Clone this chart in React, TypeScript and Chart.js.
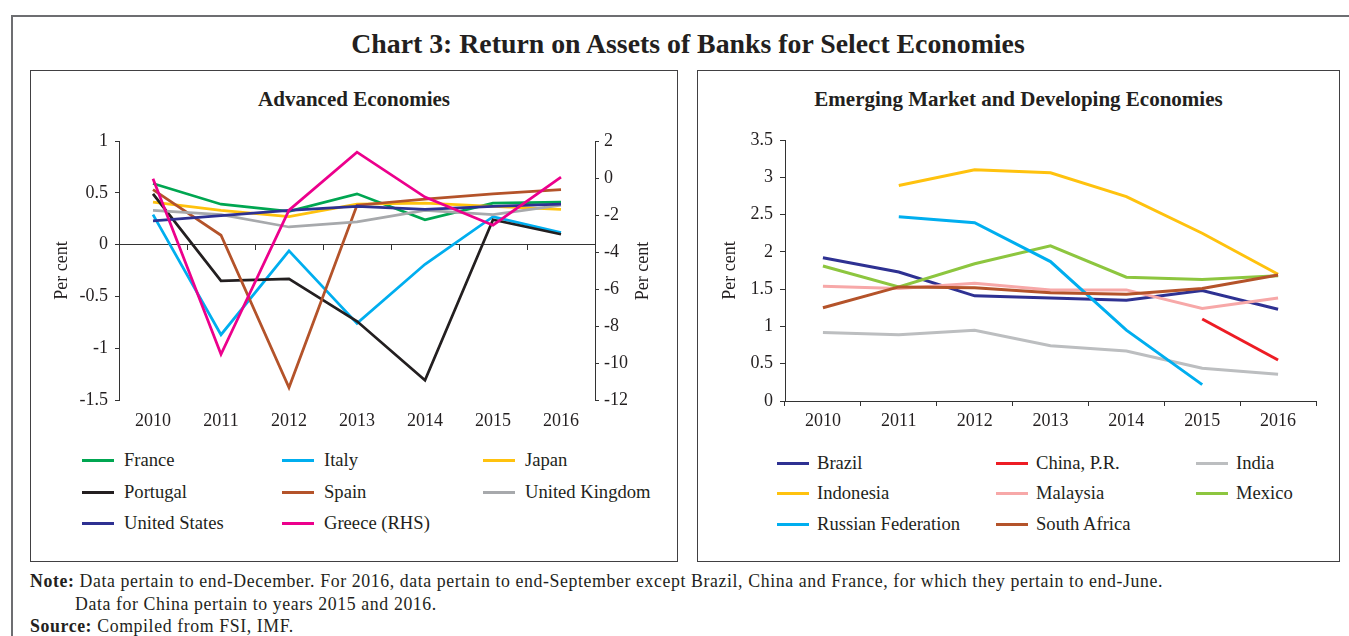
import React, { useEffect, useRef } from 'react';
import { Chart, registerables } from 'chart.js';

Chart.register(...registerables);

// ---------- data ----------
const years = ['2010', '2011', '2012', '2013', '2014', '2015', '2016'];

// Advanced economies (per cent, left axis unless noted)
const france = [0.59, 0.39, 0.32, 0.49, 0.24, 0.4, 0.41];
const italy = [0.29, -0.87, -0.06, -0.76, -0.19, 0.27, 0.115];
const japan = [0.41, 0.33, 0.27, 0.39, 0.4, 0.37, 0.34];
const portugal = [0.49, -0.35, -0.33, -0.74, -1.31, 0.24, 0.1];
const spain = [0.53, 0.09, -1.38, 0.38, 0.44, 0.49, 0.53];
const unitedKingdom = [0.33, 0.29, 0.17, 0.22, 0.33, 0.29, 0.38];
const unitedStates = [0.23, 0.28, 0.33, 0.37, 0.34, 0.37, 0.39];
const greeceRHS = [-0.04, -9.53, -1.74, 1.4, -1.03, -2.55, 0.05];

// Emerging market and developing economies (per cent)
const brazil = [1.92, 1.73, 1.41, 1.38, 1.35, 1.48, 1.23];
const china = [null, null, null, null, null, 1.1, 0.55];
const india = [0.92, 0.89, 0.95, 0.74, 0.67, 0.44, 0.36];
const indonesia = [null, 2.89, 3.1, 3.06, 2.74, 2.25, 1.7];
const malaysia = [1.54, 1.51, 1.58, 1.49, 1.49, 1.24, 1.38];
const mexico = [1.81, 1.53, 1.84, 2.08, 1.66, 1.63, 1.68];
const russia = [null, 2.47, 2.39, 1.87, 0.95, 0.22, null];
const southAfrica = [1.25, 1.53, 1.52, 1.45, 1.43, 1.51, 1.69];

// axis ticks
const leftAxisTicks = { min: -1.5, max: 1, step: 0.5 };
const rightAxisTicks = { min: -12, max: 2, step: 2 };
const emdeAxisTicks = { min: 0, max: 3.5, step: 0.5 };

const FONT = '"Liberation Serif", "DejaVu Serif", serif';
const TEXT = '#231f20';
const AXIS = '#333333';

const advSeries = [
  { label: 'France', data: france, color: '#00a651', axis: 'y' },
  { label: 'Italy', data: italy, color: '#00aeef', axis: 'y' },
  { label: 'Japan', data: japan, color: '#ffc20e', axis: 'y' },
  { label: 'Portugal', data: portugal, color: '#231f20', axis: 'y' },
  { label: 'Spain', data: spain, color: '#b4532a', axis: 'y' },
  { label: 'United Kingdom', data: unitedKingdom, color: '#a7a9ac', axis: 'y' },
  { label: 'United States', data: unitedStates, color: '#2e3192', axis: 'y' },
  { label: 'Greece (RHS)', data: greeceRHS, color: '#ec008c', axis: 'y2' },
];

const emdeSeries = [
  { label: 'Brazil', data: brazil, color: '#2e3192' },
  { label: 'China, P.R.', data: china, color: '#ed1c24' },
  { label: 'India', data: india, color: '#bcbec0' },
  { label: 'Indonesia', data: indonesia, color: '#ffc20e' },
  { label: 'Malaysia', data: malaysia, color: '#f7a8a8' },
  { label: 'Mexico', data: mexico, color: '#8dc63f' },
  { label: 'Russian Federation', data: russia, color: '#00aeef' },
  { label: 'South Africa', data: southAfrica, color: '#b4532a' },
];

const tickFont = { family: FONT, size: 18 };
const plainNum = (v: any) => String(v);

function AdvancedChart() {
  const ref = useRef<HTMLCanvasElement>(null);
  useEffect(() => {
    if (!ref.current) return;
    const n = advSeries.length;
    const chart = new Chart(ref.current, {
      type: 'line',
      data: {
        labels: years,
        datasets: advSeries.map((s, i) => ({
          label: s.label,
          data: s.data,
          borderColor: s.color,
          backgroundColor: s.color,
          borderWidth: 2.75,
          pointRadius: 0,
          tension: 0,
          yAxisID: s.axis,
          xAxisID: 'x',
          order: n - i,
        })),
      },
      options: {
        animation: false,
        responsive: false,
        maintainAspectRatio: false,
        layout: { padding: { top: 21, left: 0, right: 0, bottom: 0 } },
        plugins: { legend: { display: false }, tooltip: { enabled: false }, title: { display: false } },
        scales: {
          x: {
            type: 'category',
            position: 'bottom',
            offset: true,
            grid: { display: false, drawTicks: false },
            border: { display: false },
            ticks: { color: TEXT, font: tickFont, padding: 10, maxRotation: 0, autoSkip: false },
            afterFit: (s: any) => { s.height = 30; },
          },
          x2: {
            type: 'category',
            axis: 'x',
            labels: years,
            position: { y: 0 },
            offset: true,
            grid: { display: true, drawOnChartArea: false, drawTicks: true, tickLength: 5, offset: true, color: AXIS },
            border: { display: true, color: AXIS, width: 1 },
            ticks: { display: false },
          },
          y: {
            type: 'linear',
            position: 'left',
            min: leftAxisTicks.min,
            max: leftAxisTicks.max,
            ticks: { stepSize: leftAxisTicks.step, color: TEXT, font: tickFont, padding: 7, callback: plainNum },
            grid: { display: true, drawOnChartArea: false, drawTicks: true, tickLength: 4, color: AXIS },
            border: { display: true, color: AXIS, width: 1 },
            title: { display: true, text: 'Per cent', color: TEXT, font: { family: FONT, size: 18 }, padding: { top: 21, bottom: 0 } },
            afterFit: (s: any) => { s.width = 89; },
          },
          y2: {
            type: 'linear',
            position: 'right',
            min: rightAxisTicks.min,
            max: rightAxisTicks.max,
            ticks: { stepSize: rightAxisTicks.step, color: TEXT, font: tickFont, padding: 5, callback: plainNum },
            grid: { display: true, drawOnChartArea: false, drawTicks: true, tickLength: 4, color: AXIS },
            border: { display: true, color: AXIS, width: 1 },
            title: { display: false },
            afterFit: (s: any) => { s.width = 83; },
          },
        },
      } as any,
    });
    return () => chart.destroy();
  }, []);
  return <canvas ref={ref} width={648} height={310} style={{ position: 'absolute', left: 30, top: 120, width: 648, height: 310 }} />;
}

function EmdeChart() {
  const ref = useRef<HTMLCanvasElement>(null);
  useEffect(() => {
    if (!ref.current) return;
    const n = emdeSeries.length;
    const chart = new Chart(ref.current, {
      type: 'line',
      data: {
        labels: years,
        datasets: emdeSeries.map((s, i) => ({
          label: s.label,
          data: s.data,
          borderColor: s.color,
          backgroundColor: s.color,
          borderWidth: 3,
          pointRadius: 0,
          tension: 0,
          spanGaps: false,
          order: n - i,
        })),
      },
      options: {
        animation: false,
        responsive: false,
        maintainAspectRatio: false,
        layout: { padding: { top: 20, left: 0, right: 24, bottom: 0 } },
        plugins: { legend: { display: false }, tooltip: { enabled: false }, title: { display: false } },
        scales: {
          x: {
            type: 'category',
            position: 'bottom',
            offset: true,
            grid: { display: true, drawOnChartArea: false, drawTicks: true, tickLength: 5, offset: true, color: AXIS },
            border: { display: true, color: AXIS, width: 1 },
            ticks: { color: TEXT, font: tickFont, padding: 4, maxRotation: 0, autoSkip: false },
            afterFit: (s: any) => { s.height = 29; },
          },
          y: {
            type: 'linear',
            position: 'left',
            min: emdeAxisTicks.min,
            max: emdeAxisTicks.max,
            ticks: { stepSize: emdeAxisTicks.step, color: TEXT, font: tickFont, padding: 7, callback: plainNum },
            grid: { display: true, drawOnChartArea: false, drawTicks: true, tickLength: 5, color: AXIS },
            border: { display: true, color: AXIS, width: 1 },
            title: { display: true, text: 'Per cent', color: TEXT, font: { family: FONT, size: 18 }, padding: { top: 22, bottom: 0 } },
            afterFit: (s: any) => { s.width = 88; },
          },
        },
      } as any,
    });
    return () => chart.destroy();
  }, []);
  return <canvas ref={ref} width={643} height={310} style={{ position: 'absolute', left: 697, top: 120, width: 643, height: 310 }} />;
}

function Legend({ items, cols, rows, lineW, textGap }: { items: { label: string; color: string }[]; cols: number[]; rows: number[]; lineW: number; textGap: number }) {
  return (
    <>
      {items.map((it, i) => {
        const c = cols[i % 3];
        const r = rows[Math.floor(i / 3)];
        return (
          <div key={it.label}>
            <div style={{ position: 'absolute', left: c, top: r - 1.5, width: lineW, height: 3, background: it.color }} />
            <div style={{ position: 'absolute', left: c + textGap, top: r - 11, height: 22, lineHeight: '22px', fontFamily: FONT, fontSize: 18.6, color: TEXT, whiteSpace: 'nowrap' }}>{it.label}</div>
          </div>
        );
      })}
    </>
  );
}

const noteStyle: React.CSSProperties = { position: 'absolute', fontSize: 17.8, lineHeight: '22px', whiteSpace: 'nowrap', letterSpacing: '0.6px' };

export default function App() {
  return (
    <div style={{ position: 'absolute', left: 0, top: 0, width: 1349, height: 636, overflow: 'hidden', background: '#fff', fontFamily: FONT, color: TEXT }}>
      {/* outer frame */}
      <div style={{ position: 'absolute', left: 11, top: 15, width: 1400, height: 700, border: '2px solid #6d6e71' }} />
      {/* main title */}
      <div style={{ position: 'absolute', left: 11, width: 1354, top: 27, textAlign: 'center', fontSize: 27.8, fontWeight: 'bold', lineHeight: '34px', whiteSpace: 'nowrap' }}>
        Chart 3: Return on Assets of Banks for Select Economies
      </div>
      {/* panels */}
      <div style={{ position: 'absolute', left: 30, top: 70, width: 646, height: 490, border: '1.5px solid #414042' }} />
      <div style={{ position: 'absolute', left: 697, top: 70, width: 641, height: 490, border: '1.5px solid #414042' }} />
      <div style={{ position: 'absolute', left: 30, width: 648, top: 86, textAlign: 'center', fontSize: 21, fontWeight: 'bold', lineHeight: '26px', whiteSpace: 'nowrap' }}>Advanced Economies</div>
      <div style={{ position: 'absolute', left: 697, width: 643, top: 86, textAlign: 'center', fontSize: 21, fontWeight: 'bold', lineHeight: '26px', whiteSpace: 'nowrap' }}>Emerging Market and Developing Economies</div>

      <AdvancedChart />
      <EmdeChart />
      {/* right-hand axis title of the advanced-economies chart (reads bottom to top) */}
      <div style={{ position: 'absolute', left: 592, top: 260, width: 100, height: 22, lineHeight: '22px', textAlign: 'center', fontSize: 18, transform: 'rotate(-90deg)', transformOrigin: '50% 50%', whiteSpace: 'nowrap' }}>Per cent</div>

      <Legend items={advSeries} cols={[82, 282, 483]} rows={[460, 492, 523]} lineW={32} textGap={42} />
      <Legend items={emdeSeries} cols={[777, 996, 1196]} rows={[463, 493, 524]} lineW={32} textGap={40} />

      {/* notes */}
      <div style={{ ...noteStyle, left: 30, top: 570 }}>
        <b>Note:</b> Data pertain to end-December. For 2016, data pertain to end-September except Brazil, China and France, for which they pertain to end-June.
      </div>
      <div style={{ ...noteStyle, left: 75, top: 593 }}>
        Data for China pertain to years 2015 and 2016.
      </div>
      <div style={{ ...noteStyle, left: 30, top: 615 }}>
        <b>Source:</b> Compiled from FSI, IMF.
      </div>
    </div>
  );
}
